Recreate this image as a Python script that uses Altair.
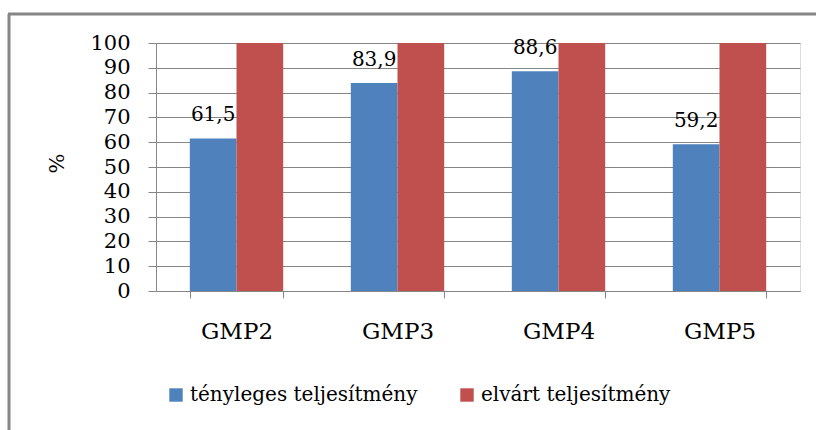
import altair as alt
import pandas as pd

# Performance by GMP module: actual vs. expected (%)
categories = ["GMP2", "GMP3", "GMP4", "GMP5"]
series = ["tényleges teljesítmény", "elvárt teljesítmény"]
actual = [61.5, 83.9, 88.6, 59.2]
expected = [100, 100, 100, 100]
colors = ["#4F81BD", "#C0504D"]
y_ticks = list(range(0, 101, 10))

rows = []
for cat, a, e in zip(categories, actual, expected):
    rows.append({"cat": cat, "series": series[0], "value": a})
    rows.append({"cat": cat, "series": series[1], "value": e})
df = pd.DataFrame(rows)

FONT = "DejaVu Serif"
GRAY = "#868686"

x_axis = alt.Axis(
    labelFont=FONT,
    labelFontSize=23,
    labelColor="black",
    labelAngle=0,
    labelBaseline="alphabetic",
    labelPadding=40,
    tickBand="extent",
    tickSize=7,
    tickColor=GRAY,
    domainColor=GRAY,
    grid=False,
)
y_axis = alt.Axis(
    values=y_ticks,
    labelOverlap=False,
    labelFont=FONT,
    labelFontSize=21,
    labelColor="black",
    labelPadding=18,
    tickSize=8,
    tickColor=GRAY,
    domainColor=GRAY,
    gridColor=GRAY,
    gridWidth=1,
    titleFont=FONT,
    titleFontSize=21,
    titleFontWeight="normal",
    titleColor="black",
    titleAngle=270,
    titleX=-99,
    titleY=120,
    titleAlign="center",
    titleBaseline="middle",
)

x_enc = alt.X("cat:N", sort=categories, title=None,
              scale=alt.Scale(paddingInner=0.42, paddingOuter=0.21), axis=x_axis)
y_enc = alt.Y("value:Q", title="%", scale=alt.Scale(domain=[0, 100], nice=False), axis=y_axis)
xoff_enc = alt.XOffset("series:N", sort=series, scale=alt.Scale(domain=series, paddingInner=0, paddingOuter=0))

base = alt.Chart(df)

bars = base.mark_bar().encode(
    x=x_enc,
    xOffset=xoff_enc,
    y=y_enc,
    color=alt.Color(
        "series:N",
        sort=series,
        scale=alt.Scale(domain=series, range=colors),
        legend=alt.Legend(
            title=None,
            orient="none",
            direction="horizontal",
            legendX=10,
            legendY=342,
            symbolType="square",
            symbolSize=180,
            symbolStrokeWidth=0,
            labelFont=FONT,
            labelFontSize=20,
            labelColor="black",
            labelOffset=4,
            labelLimit=0,
            columnPadding=39,
        ),
    ),
)

# Value labels above the actual-performance bars
labels = base.transform_filter(
    alt.datum.series == series[0]
).transform_calculate(
    label="replace(format(datum.value, '.1f'), '.', ',')"
).mark_text(
    font=FONT, fontSize=20, color="black", baseline="alphabetic", align="center", dy=-17
).encode(
    x=x_enc,
    xOffset=xoff_enc,
    y=y_enc,
    text="label:N",
)

# Outer chart frame (left and top edges)
frame_df = pd.DataFrame({"k": [0]})
frame_left = alt.Chart(frame_df).mark_rule(color=GRAY, strokeWidth=3).encode(
    x=alt.value(-147), y=alt.value(-29), y2=alt.value(420)
)
frame_top = alt.Chart(frame_df).mark_rule(color=GRAY, strokeWidth=3).encode(
    x=alt.value(-148), x2=alt.value(680), y=alt.value(-29)
)

chart = alt.layer(labels, bars, frame_left, frame_top).properties(
    width=644,
    height=248,
    autosize=alt.AutoSizeParams(type="none"),
    padding={"left": 156, "top": 43, "right": 16, "bottom": 139},
).configure_view(stroke=None).configure(background="white")

chart.save("out.html", embed_options={"renderer": "svg", "actions": False})
